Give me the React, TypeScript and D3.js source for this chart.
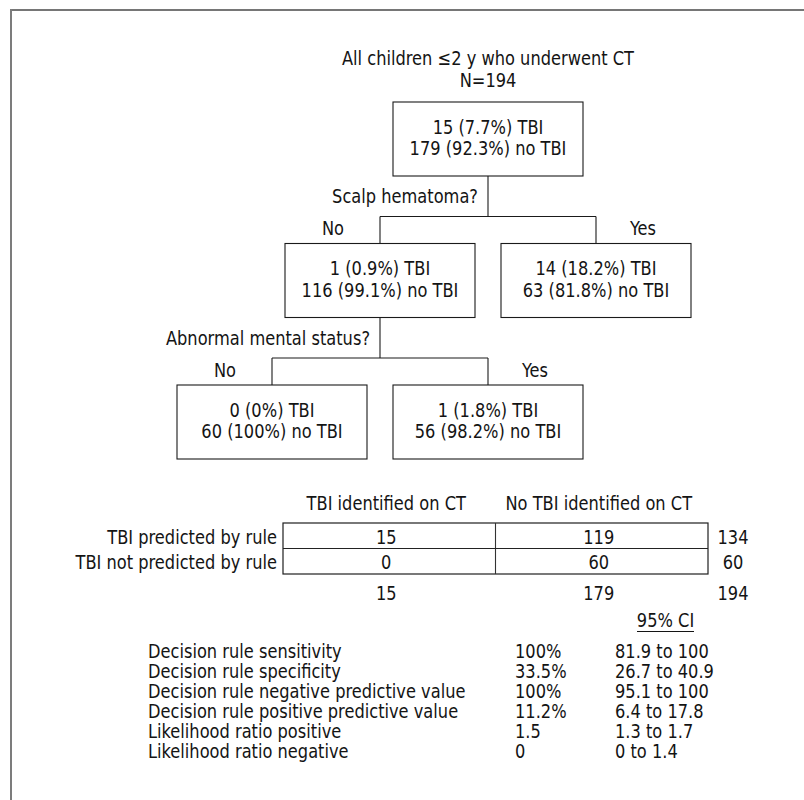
import React from "react";
import * as d3 from "d3";

// ---------- data ----------
const titleLines = ["All children \u22642 y who underwent CT", "N=194"];

type TNode = { lines: string[]; question?: string; branch?: string; children?: TNode[] };
const treeData: TNode = {
  lines: ["15 (7.7%) TBI", "179 (92.3%) no TBI"],
  question: "Scalp hematoma?",
  children: [
    {
      lines: ["1 (0.9%) TBI", "116 (99.1%) no TBI"],
      branch: "No",
      question: "Abnormal mental status?",
      children: [
        { lines: ["0 (0%) TBI", "60 (100%) no TBI"], branch: "No" },
        { lines: ["1 (1.8%) TBI", "56 (98.2%) no TBI"], branch: "Yes" },
      ],
    },
    { lines: ["14 (18.2%) TBI", "63 (81.8%) no TBI"], branch: "Yes" },
  ],
};

const tableCols = ["TBI identified on CT", "No TBI identified on CT"];
const tableRows = ["TBI predicted by rule", "TBI not predicted by rule"];
const tableValues = [
  [15, 119],
  [0, 60],
];
const rowTotals = [134, 60];
const colTotals = [15, 179];
const grandTotal = 194;

const statLabels = [
  "Decision rule sensitivity",
  "Decision rule specificity",
  "Decision rule negative predictive value",
  "Decision rule positive predictive value",
  "Likelihood ratio positive",
  "Likelihood ratio negative",
];
const statValues = ["100%", "33.5%", "100%", "11.2%", "1.5", "0"];
const statCIs = ["81.9 to 100", "26.7 to 40.9", "95.1 to 100", "6.4 to 17.8", "1.3 to 1.7", "0 to 1.4"];
const ciHeader = "95% CI";

// ---------- layout ----------
const W = 804;
const H = 800;
const FONT = "'DejaVu Sans Condensed', 'DejaVu Sans', sans-serif";
const FS = 20;

// horizontal condensing so the glyphs match the narrow typeface of the reference
function condenseFactor(): number {
  try {
    const ctx = document.createElement("canvas").getContext("2d");
    if (ctx) {
      ctx.font = `${FS}px 'DejaVu Sans Condensed', 'DejaVu Sans', sans-serif`;
      const w = ctx.measureText("Decision rule sensitivity").width;
      if (w > 50) return Math.min(1, 193.7 / w);
    }
  } catch (e) {}
  return 0.9;
}
const K = condenseFactor();

const rootX = 488;
const rootY = 102;
const boxW = 190;
const boxH = 74;
const lineGap = 21.5;

function T({
  x,
  y,
  anchor = "start",
  children,
}: {
  x: number;
  y: number;
  anchor?: "start" | "middle" | "end";
  children: React.ReactNode;
}) {
  return (
    <text
      transform={`translate(${x},${y}) scale(${K},1)`}
      textAnchor={anchor}
      fontFamily={FONT}
      fontSize={FS}
      fill="#141414"
      style={{ fontStretch: "condensed" }}
    >
      {children}
    </text>
  );
}

export default function App() {
  const root = d3.hierarchy<TNode>(treeData, (d) => d.children);
  const layout = d3.tree<TNode>().nodeSize([216, 141.5]).separation(() => 1);
  layout(root);
  const nodes = root.descendants();
  const X = (n: any) => rootX + n.x;
  const Y = (n: any) => rootY + n.y;

  // table scales
  const colX = d3.scaleBand<number>().domain([0, 1]).range([283, 708]);
  const rowY = d3.scaleBand<number>().domain([0, 1]).range([523, 574]);
  const totalX = 733;
  const headerY = 510;
  const totalsY = 600;

  // stats scales
  const statY = d3.scalePoint<number>().domain(d3.range(statLabels.length)).range([657.5, 757.5]);
  const statLabelX = 148;
  const statValX = 515;
  const statCIX = 615;

  const [tx0, tx1] = colX.range();
  const [ty0, ty1] = rowY.range();

  return (
    <div style={{ position: "absolute", left: 0, top: 0 }}>
      <svg width={W} height={H} style={{ display: "block", background: "#fff" }}>
        {/* frame */}
        <line x1={10} y1={10} x2={W} y2={10} stroke="#767676" strokeWidth={2} />
        <line x1={11} y1={9} x2={11} y2={H} stroke="#7c7c7c" strokeWidth={2} />

        {/* title */}
        {titleLines.map((t, i) => (
          <T key={i} x={rootX} y={65 + i * 21.5} anchor="middle">
            {t}
          </T>
        ))}

        {/* tree links */}
        {nodes
          .filter((n) => n.children)
          .map((n, i) => {
            const px = X(n);
            const py = Y(n) + boxH;
            const hy = py + 40.5;
            const kids = n.children!;
            const minX = d3.min(kids, (k) => X(k))!;
            const maxX = d3.max(kids, (k) => X(k))!;
            return (
              <g key={i}>
                <g stroke="#1a1a1a" strokeWidth={1.1} fill="none">
                  <line x1={px} y1={py} x2={px} y2={hy} />
                  <line x1={minX} y1={hy} x2={maxX} y2={hy} />
                  {kids.map((k, j) => (
                    <line key={j} x1={X(k)} y1={hy} x2={X(k)} y2={Y(k)} />
                  ))}
                </g>
                <T x={px - 10} y={py + 27} anchor="end">
                  {n.data.question}
                </T>
                {kids.map((k, j) => (
                  <T
                    key={"b" + j}
                    x={k.data.branch === "No" ? X(k) - 36 : X(k) + 34}
                    y={hy + 18.5}
                    anchor={k.data.branch === "No" ? "end" : "start"}
                  >
                    {k.data.branch}
                  </T>
                ))}
              </g>
            );
          })}

        {/* tree boxes */}
        {nodes.map((n, i) => (
          <g key={i}>
            <rect
              x={X(n) - boxW / 2}
              y={Y(n)}
              width={boxW}
              height={boxH}
              fill="#fff"
              stroke="#1a1a1a"
              strokeWidth={1.1}
            />
            {n.data.lines.map((l, j) => (
              <T key={j} x={X(n)} y={Y(n) + 31.5 + j * lineGap} anchor="middle">
                {l}
              </T>
            ))}
          </g>
        ))}

        {/* 2x2 table */}
        {tableCols.map((c, j) => (
          <T key={j} x={colX(j)! + colX.bandwidth() / 2 - 3} y={headerY} anchor="middle">
            {c}
          </T>
        ))}
        <rect x={tx0} y={ty0} width={tx1 - tx0} height={ty1 - ty0} fill="none" stroke="#1e1e1e" strokeWidth={1.2} />
        <line x1={colX(1)} x2={colX(1)} y1={ty0} y2={ty1} stroke="#333" strokeWidth={1.1} />
        <line x1={tx0} x2={tx1} y1={rowY(1)} y2={rowY(1)} stroke="#222" strokeWidth={1.1} />
        {tableRows.map((r, i) => (
          <g key={i}>
            <T x={tx0 - 6} y={rowY(i)! + 20.5} anchor="end">
              {r}
            </T>
            {tableValues[i].map((v, j) => (
              <T key={j} x={colX(j)! + colX.bandwidth() / 2 - 3} y={rowY(i)! + 20.5} anchor="middle">
                {v}
              </T>
            ))}
            <T x={totalX} y={rowY(i)! + 20.5} anchor="middle">
              {rowTotals[i]}
            </T>
          </g>
        ))}
        {colTotals.map((v, j) => (
          <T key={j} x={colX(j)! + colX.bandwidth() / 2 - 3} y={totalsY} anchor="middle">
            {v}
          </T>
        ))}
        <T x={totalX} y={totalsY} anchor="middle">
          {grandTotal}
        </T>

        {/* stats */}
        <T x={665.5} y={627} anchor="middle">
          {ciHeader}
        </T>
        <line x1={637} x2={694} y1={631.5} y2={631.5} stroke="#141414" strokeWidth={1.1} />
        {statLabels.map((s, i) => (
          <g key={i}>
            <T x={statLabelX} y={statY(i)!}>
              {s}
            </T>
            <T x={statValX} y={statY(i)!}>
              {statValues[i]}
            </T>
            <T x={statCIX} y={statY(i)!}>
              {statCIs[i]}
            </T>
          </g>
        ))}
      </svg>
    </div>
  );
}
